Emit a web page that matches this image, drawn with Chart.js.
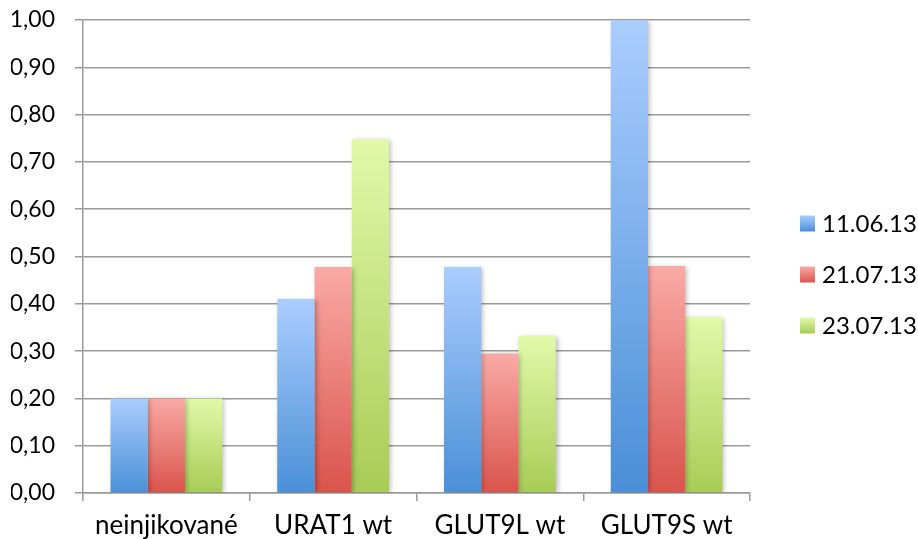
<!DOCTYPE html>
<html>
<head>
<meta charset="utf-8">
<script src="https://cdn.jsdelivr.net/npm/chart.js@4/dist/chart.umd.min.js"></script>
<style>
  html, body { margin: 0; padding: 0; background: #ffffff; }
  #wrap { width: 918px; height: 539px; position: relative; }
</style>
</head>
<body>
<div id="wrap"><canvas id="c" width="918" height="539"></canvas></div>
<script>
const categories = ['neinjikované', 'URAT1 wt', 'GLUT9L wt', 'GLUT9S wt'];
const seriesNames = ['11.06.13', '21.07.13', '23.07.13'];
const series1 = [0.20, 0.41, 0.478, 1.00];
const series2 = [0.20, 0.478, 0.295, 0.48];
const series3 = [0.20, 0.748, 0.332, 0.372];
const yTicks = [0, 0.1, 0.2, 0.3, 0.4, 0.5, 0.6, 0.7, 0.8, 0.9, 1.0];

const palettes = [
  { top: '#aacdfe', bottom: '#4a8fd7' },
  { top: '#faaaa6', bottom: '#d9544c' },
  { top: '#e1f9a8', bottom: '#a8cc57' }
];

function barGradient(idx) {
  return function (ctx) {
    const p = palettes[idx];
    if (ctx.type !== 'data') return p.bottom;
    const chart = ctx.chart;
    const ys = chart.scales && chart.scales.y;
    if (!ys) return p.bottom;
    const yTop = ys.getPixelForValue(ctx.raw);
    const yBot = ys.getPixelForValue(0);
    if (!isFinite(yTop) || !isFinite(yBot) || yTop === yBot) return p.bottom;
    const g = chart.ctx.createLinearGradient(0, yTop, 0, yBot);
    g.addColorStop(0, p.top);
    g.addColorStop(1, p.bottom);
    return g;
  };
}

const shadowPlugin = {
  id: 'barShadow',
  beforeDatasetsDraw(chart) {
    const c = chart.ctx;
    c.save();
    c.shadowColor = 'rgba(0,0,0,0.28)';
    c.shadowBlur = 5;
    c.shadowOffsetX = 2;
    c.shadowOffsetY = 1;
  },
  afterDatasetsDraw(chart) {
    chart.ctx.restore();
  }
};

const legendPlugin = {
  id: 'sideLegend',
  afterDraw(chart) {
    const c = chart.ctx;
    const area = chart.chartArea;
    const boxX = area.right + 50;
    const textX = boxX + 22;
    const spacing = 51;
    const midY = chart.height / 2 + 5;
    c.save();
    c.font = '24px Lato';
    c.textBaseline = 'middle';
    c.textAlign = 'left';
    seriesNames.forEach((name, i) => {
      const cy = midY + (i - 1) * spacing;
      const p = palettes[i];
      const g = c.createLinearGradient(0, cy - 8, 0, cy + 8);
      g.addColorStop(0, p.top);
      g.addColorStop(1, p.bottom);
      c.fillStyle = g;
      c.fillRect(boxX, cy - 8, 15, 16);
      c.fillStyle = '#000000';
      c.fillText(name, textX, cy + 1);
    });
    c.restore();
  }
};

const gridColor = '#9a9a9a';

new Chart(document.getElementById('c'), {
  type: 'bar',
  data: {
    labels: categories,
    datasets: [
      { label: seriesNames[0], data: series1, backgroundColor: barGradient(0), borderWidth: 0 },
      { label: seriesNames[1], data: series2, backgroundColor: barGradient(1), borderWidth: 0 },
      { label: seriesNames[2], data: series3, backgroundColor: barGradient(2), borderWidth: 0 }
    ]
  },
  options: {
    responsive: false,
    animation: false,
    events: [],
    layout: { padding: { left: 11, right: 168, top: 20, bottom: 0 } },
    datasets: { bar: { categoryPercentage: 0.67, barPercentage: 1.0 } },
    plugins: {
      legend: { display: false },
      tooltip: { enabled: false },
      title: { display: false }
    },
    scales: {
      x: {
        afterFit(scale) { scale.paddingLeft = 0; scale.paddingRight = 0; scale.height = 46; },
        grid: {
          offset: true,
          drawOnChartArea: false,
          drawTicks: true,
          tickLength: 8,
          color: gridColor,
          lineWidth: 1.5
        },
        border: { display: true, color: gridColor, width: 1.5 },
        ticks: {
          color: '#000000',
          font: { family: 'Lato', size: 26, lineHeight: 1 },
          padding: 12,
          maxRotation: 0,
          autoSkip: false
        }
      },
      y: {
        min: 0,
        max: 1,
        afterFit(scale) { scale.paddingTop = 0; scale.paddingBottom = 0; scale.width = 72; },
        afterBuildTicks(axis) {
          axis.ticks = yTicks.map(v => ({ value: v }));
        },
        grid: {
          drawOnChartArea: true,
          drawTicks: true,
          tickLength: 8,
          color: gridColor,
          lineWidth: 1.5
        },
        border: { display: true, color: gridColor, width: 1.5 },
        ticks: {
          color: '#000000',
          font: { family: 'Lato', size: 23 },
          padding: 20,
          callback: (v) => Number(v).toFixed(2).replace('.', ',')
        }
      }
    }
  },
  plugins: [shadowPlugin, legendPlugin]
});
</script>
</body>
</html>
